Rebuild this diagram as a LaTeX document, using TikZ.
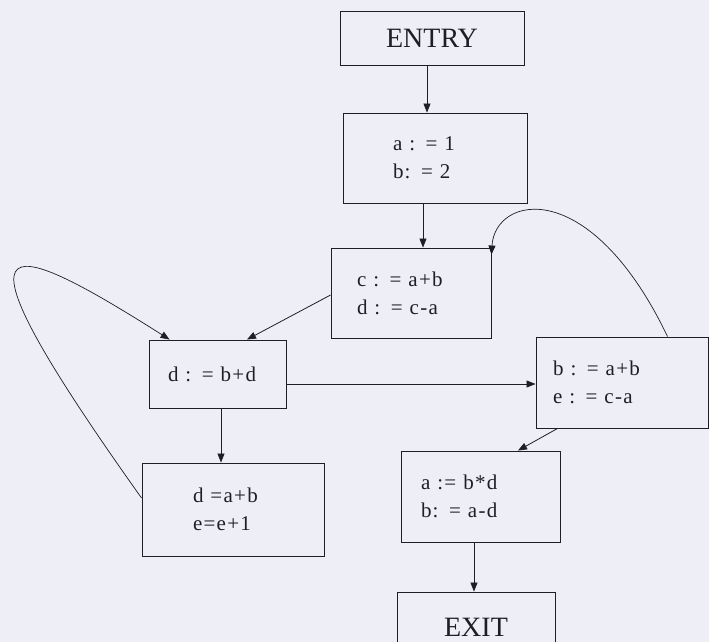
\documentclass[tikz,border=0pt]{standalone}
\usepackage{fontspec}
\setmainfont{Liberation Serif}
\newfontfamily\boxfont[LetterSpace=6]{Liberation Serif}
\usetikzlibrary{arrows.meta}
\definecolor{bg}{RGB}{238,239,246}
\definecolor{ink}{RGB}{30,30,36}
\begin{document}
\begin{tikzpicture}[x=1pt,y=-1pt,
  blk/.style={draw=ink, line width=0.9pt, align=left, inner ysep=0pt,
    font=\boxfont\fontsize{21}{28}\selectfont, text=ink},
  term/.style={draw=ink, line width=0.9pt, inner sep=0pt,
    font=\fontsize{28}{30}\selectfont, text=ink},
  flow/.style={draw=ink, line width=0.8pt, -{Triangle[length=9pt,width=7pt]}},
  loop/.style={draw=ink, line width=0.7pt, -{Triangle[length=9pt,width=7pt]}}]
\useasboundingbox (0,0) rectangle (709,642);
\fill[bg] (0,0) rectangle (709,642);

\node[term, minimum width=184pt, minimum height=54pt] (entry) at (432,38) {ENTRY};
\node[blk, minimum width=184pt, minimum height=90pt, inner xsep=50pt, text width=84pt]
  (b1) at (435,158) {\mbox{a : = 1}\\\mbox{b: = 2}};
\node[blk, minimum width=160pt, minimum height=90pt, inner xsep=26pt, text width=108pt]
  (b2) at (411,293) {\mbox{c : = a+b}\\\mbox{d : = c-a}};
\node[blk, minimum width=137pt, minimum height=68pt, inner xsep=19pt, text width=99pt]
  (b3) at (217.5,374) {\mbox{d : = b+d}};
\node[blk, minimum width=172pt, minimum height=91pt, inner xsep=17pt, text width=138pt]
  (b4) at (622,382.5) {\mbox{b : = a+b}\\\mbox{e : = c-a}};
\node[blk, minimum width=182pt, minimum height=93pt, inner xsep=51pt, text width=80pt]
  (b5) at (233,509.5) {\mbox{d =a+b}\\\mbox{e=e+1}};
\node[blk, minimum width=159pt, minimum height=91pt, inner xsep=20pt, text width=119pt]
  (b6) at (480.5,496.5) {\mbox{a := b*d}\\\mbox{b: = a-d}};
\node[term, minimum width=158pt, minimum height=70pt] (exit) at (476,627) {EXIT};

\draw[flow] ([xshift=-5pt]entry.south) -- ([xshift=-5pt]entry.south |- b1.north);
\draw[flow] ([xshift=-12pt]b1.south) -- ([xshift=-12pt]b1.south |- b2.north);
\draw[flow] ([yshift=-2pt]b2.west) -- ([xshift=29.5pt]b3.north);
\draw[flow] ([yshift=-10pt]b3.east) -- ([yshift=-10pt]b3.east -| b4.west);
\draw[flow] ([xshift=3.5pt]b3.south) -- ([xshift=3.5pt]b3.south |- b5.north);
\draw[flow] ([xshift=22pt]b4.south west) -- ([xshift=37.5pt]b6.north);
\draw[flow] ([xshift=-6.5pt]b6.south) -- ([xshift=-6.5pt]b6.south |- exit.north);
\draw[loop] ([xshift=132pt]b4.north west) .. controls (590,175) and (495,195) .. ([yshift=-7pt]b2.north east);
\draw[loop] ([yshift=11.5pt]b5.west) .. controls (-60,215) and (0,232) .. ([xshift=21pt]b3.north west);
\end{tikzpicture}
\end{document}
